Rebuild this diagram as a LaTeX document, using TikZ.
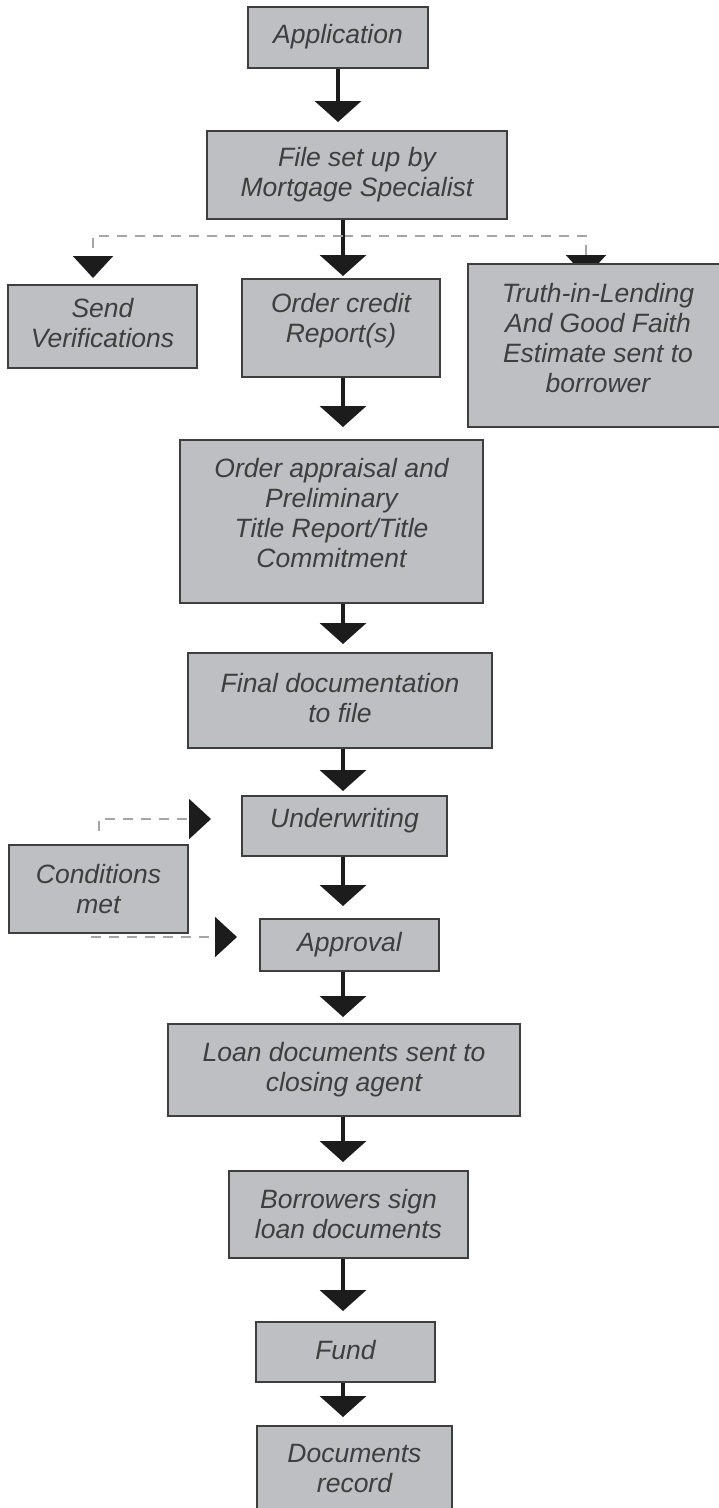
\documentclass[tikz,border=0pt]{standalone}
\usepackage{fontspec}
\setmainfont{Liberation Sans}
\usetikzlibrary{arrows.meta, backgrounds}
\definecolor{boxgray}{RGB}{190,191,195}
\definecolor{edgegray}{RGB}{62,62,62}
\definecolor{textgray}{RGB}{62,62,62}
\definecolor{dashgray}{RGB}{165,165,165}
\definecolor{headblack}{RGB}{28,28,28}

\begin{document}
\begin{tikzpicture}[x=1pt, y=-1pt,
  stepbox/.style={rectangle, draw=edgegray, line width=2pt, fill=boxgray, inner sep=0pt, align=center, text=textgray, font=\fontsize{26.5}{30}\selectfont\itshape},
  lift/.style={execute at end node={\rule[-#1pt]{0pt}{#1pt}}},
  flow/.style={-{Triangle[length=21pt, width=46pt]}, line width=4pt, headblack, shorten >=#1pt},
  flow/.default=8,
  branch/.style={-{Triangle[length=22pt, width=40pt, color=headblack]}, line width=2pt, dashgray, dash pattern=on 10pt off 8pt, shorten >=#1pt},
  branch/.default=6
]

\useasboundingbox (0,0) rectangle (718,1508);
\begin{pgfonlayer}{background}
\fill[white] (0,0) rectangle (718,1508);
\end{pgfonlayer}

\node[stepbox, minimum width=180, minimum height=61, lift=8] (app) at (338,37.5) {Application};
\node[stepbox, minimum width=300, minimum height=88] (file) at (357,175) {File set up by\\Mortgage Specialist};
\node[stepbox, minimum width=189, minimum height=83, lift=7] (send) at (102.5,326.5) {Send\\Verifications};
\node[stepbox, minimum width=198, minimum height=98, lift=20] (credit) at (341,328) {Order credit\\Report(s)};
\node[stepbox, minimum width=260, minimum height=163, lift=16] (truth) at (598,345.5) {Truth-in-Lending\\And Good Faith\\Estimate sent to\\borrower};
\node[stepbox, minimum width=303, minimum height=163, lift=18] (appraisal) at (331.5,521.5) {Order appraisal and\\Preliminary\\Title Report/Title\\Commitment};
\node[stepbox, minimum width=304, minimum height=95, lift=6] (final) at (340,700.5) {Final documentation\\to file};
\node[stepbox, minimum width=205, minimum height=60, lift=17] (under) at (344.5,826) {Underwriting};
\node[stepbox, minimum width=179, minimum height=88] (cond) at (98.5,889) {Conditions\\met};
\node[stepbox, minimum width=179, minimum height=52] (approval) at (349.5,945) {Approval};
\node[stepbox, minimum width=352, minimum height=92] (loan) at (344,1070) {Loan documents sent to\\closing agent};
\node[stepbox, minimum width=239, minimum height=87] (sign) at (348.5,1214.5) {Borrowers sign\\loan documents};
\node[stepbox, minimum width=179, minimum height=60, lift=4] (fund) at (345.5,1352) {Fund};
\node[stepbox, minimum width=195, minimum height=96, lift=12] (docs) at (354.5,1474) {Documents\\record};

% main line
\coordinate (spine) at (343,0);
\coordinate (fork) at (343,236);
\draw[flow] (app.south) -- (app.south |- file.north);
\draw[flow=2] (spine |- file.south) -- (spine |- credit.north);
\draw[flow=12] (spine |- credit.south) -- (spine |- appraisal.north);
\draw[flow] (spine |- appraisal.south) -- (spine |- final.north);
\draw[flow=4] (spine |- final.south) -- (spine |- under.north);
\draw[flow=12] (spine |- under.south) -- (spine |- approval.north);
\draw[flow=6] (spine |- approval.south) -- (spine |- loan.north);
\draw[flow] (spine |- loan.south) -- (spine |- sign.north);
\draw[flow=10] (spine |- sign.south) -- (spine |- fund.north);
\draw[flow] (spine |- fund.south) -- (spine |- docs.north);

% dashed side paths
\draw[branch] (fork) -| ([xshift=-9.5pt]send.north);
\begin{pgfonlayer}{background}
\draw[branch=0] (fork) -| ([xshift=-12pt, yshift=-14pt]truth.north);
\end{pgfonlayer}
\draw[branch=30] ([yshift=13pt]cond.north) |- ([yshift=7pt]under.west);
\draw[branch=22] ([xshift=-8pt, yshift=-3pt]cond.south) -- ([yshift=-3pt]cond.south -| approval.west);

\end{tikzpicture}
\end{document}
